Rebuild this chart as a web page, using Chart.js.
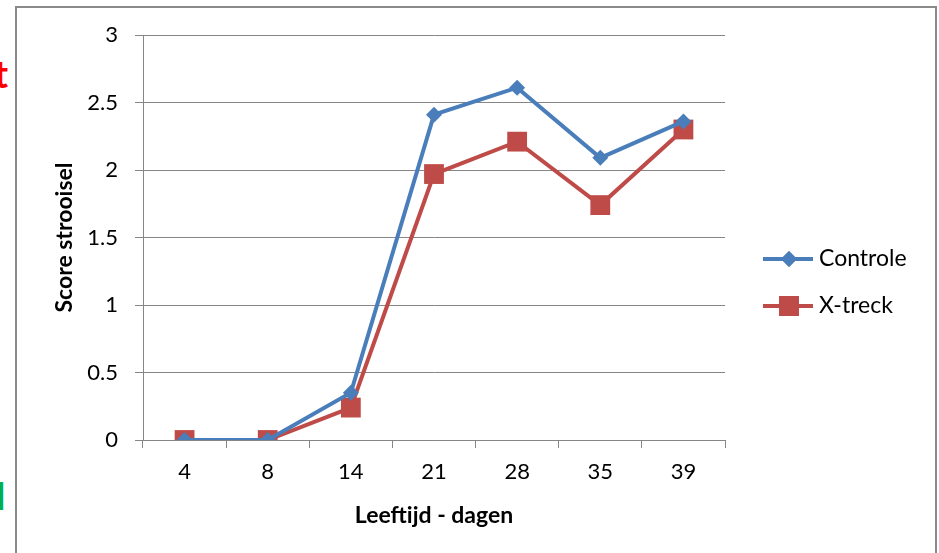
<!DOCTYPE html>
<html lang="nl">
<head>
    <meta charset="UTF-8">
    <title>Score strooisel</title>
    <script src="https://cdn.jsdelivr.net/npm/chart.js"></script>
    <style>
        html, body {
            margin: 0;
            padding: 0;
            background: #fff;
            width: 939px;
            height: 553px;
            overflow: hidden;
            position: relative;
            font-family: Lato, "Open Sans", sans-serif;
        }
        .frame {
            position: absolute;
            left: 15px;
            top: 6px;
            width: 918px;
            height: 600px;
            border: 2px solid #8a8a8a;
        }
        .cut {
            position: absolute;
            left: 0;
            overflow: hidden;
            font-weight: bold;
            line-height: 1;
        }
        .cut span {
            position: relative;
        }
        #chart {
            position: absolute;
            left: 0;
            top: 0;
        }
    </style>
</head>
<body>
    <div class="frame"></div>
    <div class="cut" style="top:54px;width:8px;height:40px;color:#ff0000;font-size:38px;"><span style="left:-6px;">t</span></div>
    <div class="cut" style="top:476px;width:4px;height:36px;color:#00b050;font-size:38px;"><span style="left:-4px;">l</span></div>
    <canvas id="chart" width="939" height="553"></canvas>
    <script>
        const dagen = ['4', '8', '14', '21', '28', '35', '39'];
        const controle = [0, 0, 0.35, 2.41, 2.61, 2.09, 2.36];
        const xtreck = [0, 0, 0.24, 1.97, 2.21, 1.74, 2.30];

        const blauw = '#4a7ebb';
        const rood = '#be4b48';

        // legenda zoals in Excel: lijntje met marker erop
        const legendPlugin = {
            id: 'excelLegend',
            afterDraw(chart) {
                const ctx = chart.ctx;
                const items = [
                    { label: 'Controle', color: blauw, style: 'rectRot', r: 8, y: 259 },
                    { label: 'X-treck', color: rood, style: 'rect', r: 14, y: 306 }
                ];
                ctx.save();
                items.forEach(it => {
                    ctx.strokeStyle = it.color;
                    ctx.lineWidth = 4;
                    ctx.beginPath();
                    ctx.moveTo(763, it.y);
                    ctx.lineTo(813, it.y);
                    ctx.stroke();
                    ctx.fillStyle = it.color;
                    Chart.helpers.drawPoint(ctx, { pointStyle: it.style, radius: it.r, borderWidth: 0 }, 789, it.y);
                    ctx.fill();
                    ctx.fillStyle = '#000';
                    ctx.font = '23px Lato, "Open Sans", sans-serif';
                    ctx.textBaseline = 'middle';
                    ctx.textAlign = 'left';
                    ctx.fillText(it.label, 819, it.y);
                });
                ctx.restore();
            }
        };

        new Chart(document.getElementById('chart'), {
            type: 'line',
            data: {
                labels: dagen,
                datasets: [
                    {
                        label: 'Controle',
                        data: controle,
                        borderColor: blauw,
                        backgroundColor: blauw,
                        borderWidth: 4,
                        pointStyle: 'rectRot',
                        pointRadius: 8,
                        pointBorderWidth: 0,
                        tension: 0
                    },
                    {
                        label: 'X-treck',
                        data: xtreck,
                        borderColor: rood,
                        backgroundColor: rood,
                        borderWidth: 4,
                        pointStyle: 'rect',
                        pointRadius: 14,
                        pointBorderWidth: 0,
                        tension: 0
                    }
                ]
            },
            options: {
                responsive: false,
                animation: false,
                layout: {
                    padding: { left: 45, right: 214, top: 35, bottom: 0 }
                },
                plugins: {
                    legend: { display: false },
                    tooltip: { enabled: false }
                },
                scales: {
                    x: {
                        offset: true,
                        grid: {
                            offset: true,
                            drawOnChartArea: false,
                            drawTicks: true,
                            tickLength: 8,
                            color: '#868686'
                        },
                        border: { color: '#868686', width: 1 },
                        ticks: {
                            color: '#000',
                            padding: 11,
                            font: { family: 'Lato', size: 22 }
                        },
                        title: {
                            display: true,
                            text: 'Leeftijd - dagen',
                            color: '#000',
                            font: { family: 'Lato', size: 23, weight: 'bold' },
                            padding: { top: 0, bottom: 24 }
                        },
                        afterFit(scale) { scale.height = 113; }
                    },
                    y: {
                        min: 0,
                        max: 3,
                        ticks: {
                            stepSize: 0.5,
                            color: '#000',
                            padding: 17,
                            font: { family: 'Lato', size: 22 },
                            callback: v => String(v)
                        },
                        grid: {
                            color: '#868686',
                            tickLength: 8
                        },
                        border: { color: '#868686', width: 1 },
                        title: {
                            display: true,
                            text: 'Score strooisel',
                            color: '#000',
                            font: { family: 'Lato', size: 23, weight: 'bold' },
                            padding: { top: 6, bottom: 0 }
                        },
                        afterFit(scale) { scale.width = 98; }
                    }
                }
            },
            plugins: [legendPlugin]
        });
    </script>
</body>
</html>
